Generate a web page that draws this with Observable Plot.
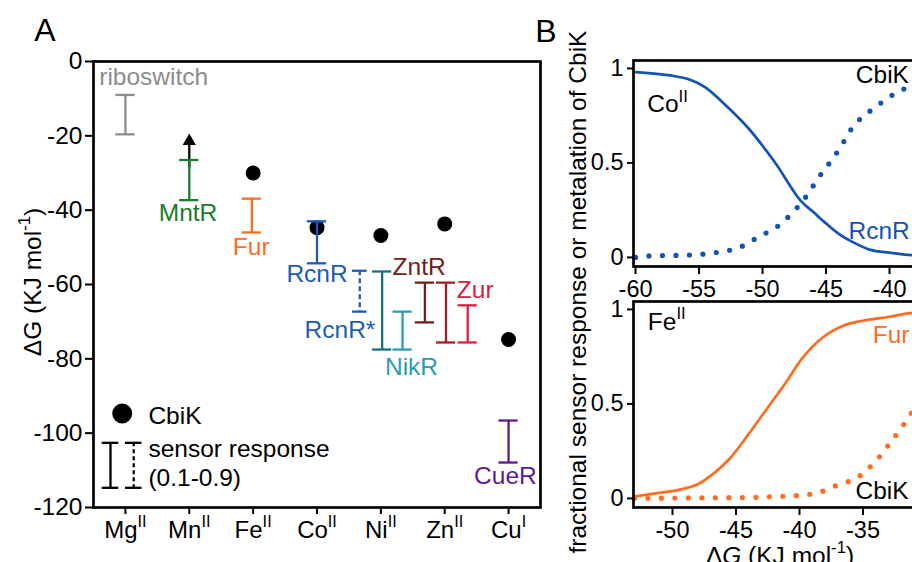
<!DOCTYPE html>
<html><head><meta charset="utf-8">
<script src="https://cdn.jsdelivr.net/npm/d3@7"></script>
<script src="https://cdn.jsdelivr.net/npm/@observablehq/plot@0.6"></script>
<style>
html,body{margin:0;padding:0;background:#fff;overflow:hidden}
#wrap{position:relative;width:912px;height:562px;overflow:hidden;background:#fff}
#wrap > svg{position:absolute}
</style></head><body><div id="wrap"></div>
<script>
// ---------------- DATA: panel A ----------------
const metals = ["Mg^{II}","Mn^{II}","Fe^{II}","Co^{II}","Ni^{II}","Zn^{II}","Cu^{I}"];
const metalPos = [0,1,2,3,4,5,6];
const yTicksA = [0,-20,-40,-60,-80,-100,-120];
const cbikMetalPos = [2,3,4,5,6];
const cbikDG = [-30,-44.7,-46.8,-43.7,-74.8];

const sensorName   = ["riboswitch","MntR","Fur","RcnR","RcnR*","NikR","NikR","ZntR","Zur","Zur","CueR"];
const sensorPos    = [0,1,1.98,3,3.67,4.02,4.34,4.69,5.02,5.36,6];
const sensorTop    = [-9,-26.5,-36.9,-43,-56.3,-56.5,-67.3,-59.5,-59.5,-65.6,-96.6];
const sensorBottom = [-19.6,-37.3,-46,-54.3,-67.3,-77.5,-77.5,-70.2,-75.6,-75.6,-107.9];
const sensorDashed = [false,false,false,false,true,false,false,false,false,false,false];
const mntrArrowTip = -19.4;

// annotation labels (data coordinates)
const labelText = ["riboswitch","MntR","Fur","RcnR","RcnR*","NikR","ZntR","Zur","CueR"];
const labelX    = [-0.41,0.98,1.97,3,3.36,4.48,4.6,5.19,5.95];
const labelY    = [-4.2,-40.9,-50,-57.3,-72.4,-82.3,-55.4,-61.6,-111.6];
const labelStart= [true,false,false,false,false,false,false,true,false];

// ---------------- DATA: panel B ----------------
const xTicksB1 = [-60,-55,-50,-45,-40,-35];
const xTicksB2 = [-50,-45,-40,-35];
const yTicksB = [0,0.5,1];
const coRcnrX = [-60,-57,-55.7,-54.5,-53.3,-51.2,-49.1,-47,-46,-45,-44,-43,-41.5,-40,-38.2,-35,-32];
const coRcnrY = [0.98,0.96,0.94,0.9,0.83,0.69,0.51,0.3,0.24,0.18,0.125,0.085,0.04,0.025,0.012,0.005,0.003];
const coCbikX = [-60,-58.3,-57.2,-56.2,-55.1,-54.1,-53,-51.9,-50.8,-49.7,-48.7,-47.6,-46.7,-46,-45.3,-44.5,-43.8,-43.1,-42.2,-41.2,-40,-38.9,-37.5,-36,-34];
const coCbikY = [0,0.01,0.01,0.012,0.015,0.022,0.033,0.05,0.09,0.13,0.17,0.24,0.31,0.38,0.45,0.52,0.59,0.67,0.74,0.79,0.85,0.89,0.93,0.96,0.98];
const feFurX = [-53,-51,-49.5,-48,-46.8,-45.5,-44,-42.5,-41,-39.8,-38.2,-36.5,-35,-33,-31.3,-29,-26];
const feFurY = [0.01,0.03,0.045,0.075,0.13,0.21,0.34,0.48,0.62,0.74,0.85,0.915,0.94,0.96,0.98,0.99,0.995];
const feCbikX = [-53,-50,-48,-44,-42,-40,-38.2,-37.4,-36.6,-35.7,-34.7,-33.7,-32.8,-32,-31.3,-30.5,-29.5,-28.5];
const feCbikY = [0,0.002,0.003,0.005,0.01,0.016,0.037,0.06,0.08,0.1,0.15,0.22,0.3,0.37,0.44,0.52,0.6,0.68];
const coLabText = ["Co^{II}","CbiK","RcnR"], coLabX = [-59.08,-42.65,-43.23], coLabY = [0.81,0.963,0.138];
const feLabText = ["Fe^{II}","Fur","CbiK"], feLabX = [-51.94,-34.23,-35.59], feLabY = [0.934,0.865,0.04];

// ---------------- STYLE ----------------
const FONT = '"Liberation Sans", Arial, Helvetica, sans-serif';
const sensorStroke = ["#8c8c8c","#1b7a2c","#ff6b1f","#1a5cb8","#1a5cb8","#16727c","#2a9db2","#731c1c","#a31c2b","#d9213a","#5b1a8c"];
const labelFill = ["#8c8c8c","#1b7a2c","#ff6b1f","#1a5cb8","#1a5cb8","#2a9db2","#731c1c","#d9213a","#5b1a8c"];
const BLUE = "#1452b4", ORANGE = "#ff6b1f";
const coLabFill = ["#000","#000",BLUE], feLabFill = ["#000",ORANGE,"#000"];

const wrap = document.getElementById("wrap");
const ns = "http://www.w3.org/2000/svg";

function place(svg, left, top){ svg.style.left = left+"px"; svg.style.top = top+"px"; wrap.appendChild(svg); return svg; }

function addText(svg, x, y, str, size, rotate){
  const t = document.createElementNS(ns,"text");
  t.setAttribute("text-anchor","middle");
  t.setAttribute("dy","0.35em");
  t.setAttribute("font-size", size);
  t.setAttribute("font-family", FONT);
  t.setAttribute("fill","#000");
  t.setAttribute("transform", `translate(${x},${y})` + (rotate ? ` rotate(${rotate})` : ""));
  t.textContent = str;
  svg.appendChild(t);
}

function rich(root){
  root.querySelectorAll("text").forEach(t => {
    const s = t.textContent;
    if (!/[\^~]/.test(s)) return;
    const fs = parseFloat(getComputedStyle(t).fontSize) || 23;
    while (t.firstChild) t.removeChild(t.firstChild);
    const re = /\^\{([^}]*)\}|~([^~]*)~|([^\^~]+)/g;
    let m, shifted = false;
    while ((m = re.exec(s))) {
      const ts = document.createElementNS(ns,"tspan");
      if (m[1] !== undefined) {
        ts.textContent = m[1];
        ts.setAttribute("font-size", (fs*0.68).toFixed(1));
        ts.setAttribute("dy", (-fs*0.42).toFixed(1));
        shifted = true;
      } else {
        ts.textContent = m[2] !== undefined ? m[2] : m[3];
        if (m[2] !== undefined) ts.setAttribute("font-style","italic");
        if (shifted) { ts.setAttribute("dy", (fs*0.42).toFixed(1)); shifted = false; }
      }
      t.appendChild(ts);
    }
  });
}

// ---------------- PANEL A ----------------
const bars = sensorName.map((n,i) => ({n, x: sensorPos[i], y1: sensorTop[i], y2: sensorBottom[i], dashed: sensorDashed[i], c: sensorStroke[i]}));
const caps = bars.flatMap(b => [{...b, y: b.y1}, {...b, y: b.y2}]);
const capW = b => b.dashed ? 0.115 : 0.15;
const labels = labelText.map((t,i) => ({t, x: labelX[i], y: labelY[i], c: labelFill[i], start: labelStart[i]}));
const cbik = cbikMetalPos.map((x,i) => ({x, y: cbikDG[i]}));

// legend (drawn inside panel A)
const legendBars = [{x: -0.234, dashed: false}, {x: 0.13, dashed: true}];
const legendTop = -102.6, legendBottom = -114.7;
const legendCaps = legendBars.flatMap(b => [{...b, y: legendTop}, {...b, y: legendBottom}]);

const A = Plot.plot({
  width: 600, height: 562,
  marginLeft: 93, marginRight: 60, marginTop: 61, marginBottom: 55,
  style: {fontFamily: FONT, fontSize: "24px", background: "none", overflow: "visible", color: "#000"},
  x: {domain: [-0.5, 6.5], axis: null},
  y: {domain: [-120, 0], axis: null},
  color: {type: "identity"},
  marks: [
    Plot.axisY({ticks: yTicksA, tickFormat: d => String(d), tickSize: 8, tickPadding: 3, strokeWidth: 2, fontSize: 24.5, label: null}),
    Plot.axisX({ticks: metalPos, tickFormat: i => metals[i], tickSize: 7, tickPadding: 6, strokeWidth: 2, fontSize: 24, label: null}),
    Plot.dot(cbik, {x: "x", y: "y", r: 7.5, fill: "#000"}),
    // MntR lower-bound arrow
    Plot.ruleX([mntrArrowTip], {x: 1, y1: sensorTop[1], y2: d => d, dy: 8, stroke: "#000", strokeWidth: 2.3}),
    Plot.dot([mntrArrowTip], {x: 1, y: d => d, dy: 7.5, symbol: "triangle", r: 4.9, fill: "#000"}),
    Plot.ruleX(bars.filter(b => !b.dashed), {x: "x", y1: "y1", y2: "y2", stroke: "c", strokeWidth: 2.3}),
    Plot.ruleX(bars.filter(b => b.dashed), {x: "x", y1: "y1", y2: "y2", stroke: "c", strokeWidth: 2.3, strokeDasharray: "5,3"}),
    Plot.ruleY(caps, {y: "y", x1: b => b.x - capW(b), x2: b => b.x + capW(b), stroke: "c", strokeWidth: 2.3}),
    Plot.text(labels.filter(l => !l.start), {x: "x", y: "y", text: "t", fill: "c", fontSize: 24.5, textAnchor: "middle"}),
    Plot.text(labels.filter(l => l.start), {x: "x", y: "y", text: "t", fill: "c", fontSize: 24.5, textAnchor: "start"}),
    // legend
    Plot.dot([0], {x: -0.05, y: -94.7, r: 10, fill: "#000"}),
    Plot.ruleX(legendBars.filter(b => !b.dashed), {x: "x", y1: legendTop, y2: legendBottom, stroke: "#000", strokeWidth: 2.3}),
    Plot.ruleX(legendBars.filter(b => b.dashed), {x: "x", y1: legendTop, y2: legendBottom, stroke: "#000", strokeWidth: 2.3, strokeDasharray: "4,3"}),
    Plot.ruleY(legendCaps, {y: "y", x1: b => b.x - 0.13, x2: b => b.x + 0.13, stroke: "#000", strokeWidth: 2.3}),
    Plot.text(["CbiK"], {x: 0.36, y: -95.5, text: d => d, fontSize: 24.5, textAnchor: "start", fill: "#000"}),
    Plot.text(["sensor response"], {x: 0.36, y: -104.3, text: d => d, fontSize: 24.5, textAnchor: "start", fill: "#000"}),
    Plot.text(["(0.1-0.9)"], {x: 0.36, y: -112, text: d => d, fontSize: 24.5, textAnchor: "start", fill: "#000"}),
    Plot.frame({strokeWidth: 2.7, stroke: "#000"})
  ]
});
place(A, 0, 0);
addText(A, 45, 30, "A", 32);
addText(A, 546, 31, "B", 32);
addText(A, 32, 282, "ΔG (KJ mol^{-1})", 24.5, -90);
addText(A, 577, 292, "fractional sensor response or metalation of CbiK", 24.5, -90);

// ---------------- PANEL B ----------------
const PX = 12.7;
function panelB(opts){
  const {xdom, xticks, lines, dots, labs, height, mb} = opts;
  const ml = 43, mr = 10, mt = 60;
  return Plot.plot({
    width: ml + mr + (xdom[1]-xdom[0])*PX, height,
    marginLeft: ml, marginRight: mr, marginTop: mt, marginBottom: mb,
    style: {fontFamily: FONT, fontSize: "23px", background: "none", overflow: "visible", color: "#000"},
    x: {domain: xdom, axis: null},
    y: {domain: [-0.048, 1.042], axis: null},
    color: {type: "identity"},
    marks: [
      Plot.axisY({ticks: yTicksB, tickFormat: d => String(d), tickSize: 6, tickPadding: 4, strokeWidth: 2, fontSize: 23.5, label: null}),
      Plot.axisX({ticks: xticks, tickFormat: d => String(d), tickSize: 8, tickPadding: 6, strokeWidth: 2, fontSize: 23.5, label: null}),
      Plot.line(lines.x.map((x,i) => ({x, y: lines.y[i]})), {x: "x", y: "y", stroke: lines.c, strokeWidth: 2.7, curve: "catmull-rom"}),
      Plot.line(dots.x.map((x,i) => ({x, y: dots.y[i]})), {x: "x", y: "y", stroke: dots.c, strokeWidth: 5.2, strokeDasharray: "0 13.5", strokeLinecap: "round", curve: "monotone-x"}),
      Plot.text(labs.t.map((t,i) => ({t, x: labs.x[i], y: labs.y[i], c: labs.c[i]})), {x: "x", y: "y", text: "t", fill: "c", fontSize: 24.5, textAnchor: "start"}),
      Plot.frame({strokeWidth: 2.7, stroke: "#000"})
    ]
  });
}
const B1 = panelB({xdom: [-60.16, -30], xticks: xTicksB1, height: 305, mb: 39,
  lines: {x: coRcnrX, y: coRcnrY, c: BLUE}, dots: {x: coCbikX, y: coCbikY, c: BLUE},
  labs: {t: coLabText, x: coLabX, y: coLabY, c: coLabFill}});
place(B1, 590, 0);
const B2 = panelB({xdom: [-53.07, -25], xticks: xTicksB2, height: 321, mb: 55,
  lines: {x: feFurX, y: feFurY, c: ORANGE}, dots: {x: feCbikX, y: feCbikY, c: ORANGE},
  labs: {t: feLabText, x: feLabX, y: feLabY, c: feLabFill}});
place(B2, 590, 241);
addText(B2, 190, 314, "Δ~G~ (KJ mol^{-1})", 24.5);

[A, B1, B2].forEach(rich);
</script></body></html>
